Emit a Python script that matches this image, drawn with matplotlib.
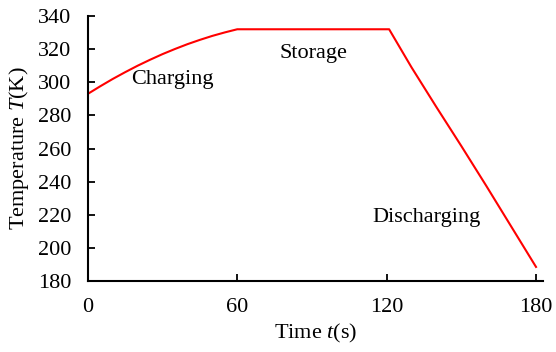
import matplotlib
matplotlib.use("Agg")
import matplotlib.pyplot as plt

plt.rcParams['font.family'] = ['Liberation Serif', 'DejaVu Serif']
plt.rcParams['mathtext.fontset'] = 'custom'
plt.rcParams['mathtext.rm'] = 'Liberation Serif'
plt.rcParams['mathtext.it'] = 'Liberation Serif:italic'

# Data
time_s = [0, 5, 10, 15, 20, 25, 30, 35, 40, 45, 50, 55, 60,
          121, 130, 140, 150, 160, 170, 180]
temp_K = [293, 297.6, 302, 306.1, 310, 313.6, 317, 320.1, 323, 325.6, 328, 330.1, 332,
          332, 309, 285, 261.5, 237.5, 213, 188.5]
x_ticks = [0, 60, 120, 180]
y_ticks = [180, 200, 220, 240, 260, 280, 300, 320, 340]
phase_labels = ["Charging", "Storage", "Discharging"]
phase_pos_t = [34, 90.5, 136]
phase_pos_T = [301.5, 317.5, 218.5]

fig = plt.figure(figsize=(5.56, 3.52), dpi=100)
ax = fig.add_axes([0.158, 0.2017, 0.9766 - 0.158, 0.9545 - 0.2017])
ax.plot(time_s, temp_K, color='#ff0000', lw=1.5)

ax.set_xlim(0, 182.8)
ax.set_ylim(180, 340)
ax.set_xticks(x_ticks)
ax.set_yticks(y_ticks)
ax.tick_params(direction='in', length=5, width=1.3, labelsize=16, pad=12)
for s in ['top', 'right']:
    ax.spines[s].set_visible(False)
for s in ['left', 'bottom']:
    ax.spines[s].set_linewidth(1.5)

for lab, t, T in zip(phase_labels, phase_pos_t, phase_pos_T):
    ax.text(t, T, lab, fontsize=16, ha='center', va='center')

ax.set_xlabel('Time $t$(s)', fontsize=16, labelpad=4)
ax.set_ylabel('Temperature $T$(K)', fontsize=16, labelpad=5)

fig.savefig('out.png', dpi=100)
